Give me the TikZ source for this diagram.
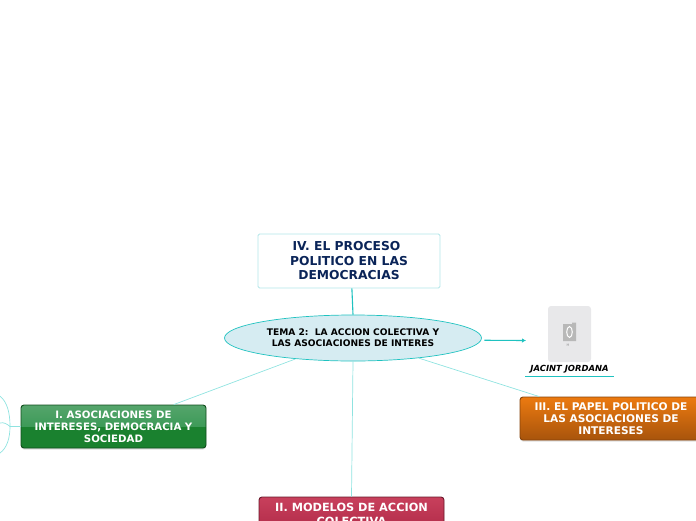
\documentclass[tikz,border=0pt]{standalone}
\usepackage{fontspec}
\setmainfont{DejaVu Sans}
\usetikzlibrary{shapes.geometric,arrows.meta,shadows}

\definecolor{linkteal}{HTML}{1FC2C0}
\definecolor{linklight}{HTML}{8FE3E0}
\definecolor{themefill}{HTML}{D6ECF2}
\definecolor{navytext}{HTML}{0A2458}
\definecolor{photogrey}{HTML}{E8E8EA}
\definecolor{greenhi}{HTML}{6DB07F}
\definecolor{greenmid}{HTML}{3D9A58}
\definecolor{greenlow}{HTML}{1A812F}
\definecolor{orangetop}{HTML}{EC7A10}
\definecolor{orangelow}{HTML}{A8540C}
\definecolor{redtop}{HTML}{C8405C}
\definecolor{redlow}{HTML}{B02A48}

\pgfdeclareverticalshading{greenbar}{100bp}{color(0bp)=(greenlow); color(50bp)=(greenlow); color(50bp)=(greenmid); color(100bp)=(greenhi)}

\tikzset{
  themenode/.style={ellipse, draw=linkteal, fill=themefill, line width=0.7pt, inner sep=0pt,
    minimum width=257pt, minimum height=46pt, align=center, font=\bfseries\fontsize{9.1}{11.2}\selectfont},
  topicbox/.style={rectangle, rounded corners=3pt, inner sep=0pt, align=center, text=white,
    minimum width=185pt, minimum height=43pt, font=\bfseries\fontsize{10.2}{12}\selectfont,
    drop shadow={opacity=0.25, shadow xshift=0pt, shadow yshift=-1.5pt}},
  link/.style={linklight, line width=0.7pt},
  strong/.style={linkteal, line width=1.1pt}
}

\begin{document}
\begin{tikzpicture}[x=1pt,y=-1pt]
  \useasboundingbox (0,0) rectangle (696,520);
  \clip (0,0) rectangle (696,520);

  % Central theme and the four branches
  \node[themenode] (tema) at (353,338) {TEMA 2:\ \ LA ACCION COLECTIVA Y\\LAS ASOCIACIONES DE INTERES};
  \node[rectangle, rounded corners=1.5pt, draw=themefill!70!linkteal!80, fill=white, line width=0.9pt, inner sep=0pt,
    minimum width=182pt, minimum height=54pt, align=center, text=navytext,
    font=\bfseries\fontsize{12.3}{14.5}\selectfont] (procesos) at (349,261)
    {IV. EL PROCESO\hspace*{5pt}\\POLITICO EN LAS\hspace*{5pt}\\ DEMOCRACIAS};
  \node[topicbox, shading=greenbar, draw=greenlow!60!black, line width=0.9pt] (asociaciones) at (113.5,426.5)
    {I. ASOCIACIONES DE\\INTERESES, DEMOCRACIA Y\\SOCIEDAD};
  \node[topicbox, top color=orangetop, bottom color=orangelow, draw=orangelow!80!black, line width=0.9pt,
    minimum width=182pt, font=\bfseries\fontsize{10.6}{12}\selectfont] (papel) at (611,418.5)
    {III. EL PAPEL POLITICO DE\\LAS ASOCIACIONES DE\\INTERESES};
  \node[topicbox, top color=redtop, bottom color=redlow, draw=redlow!60!black, line width=0.9pt,
    minimum height=35pt, font=\bfseries\fontsize{11.3}{13.5}\selectfont] (modelos) at (351.5,514.5)
    {II. MODELOS DE ACCION\\COLECTIVA};

  % Photo placeholder with its caption
  \node[rectangle, rounded corners=3pt, fill=photogrey, minimum width=43pt, minimum height=56pt, inner sep=0pt] (foto) at (569.5,334) {};
  \fill[black!28] (563,324) -- (572,324) -- (572,322.5) -- (576,322.5) -- (576,341) -- (563,341) -- cycle;
  \draw[white, line width=1pt] (569.5,332) ellipse (2.8pt and 5.4pt);
  \node[text=black!45, font=\fontsize{3.5}{4}\selectfont, inner sep=0pt] (fotomark) at (568,345) {H};
  \node[inner sep=0pt, minimum width=88pt, minimum height=15pt,
    font=\bfseries\itshape\fontsize{8.4}{10}\selectfont] (jordana) at (569.5,369) {JACINT JORDANA};
  \draw[strong, line width=1.4pt] (jordana.south west) -- (jordana.south east);

  % Connectors
  \coordinate (arrowend) at (526,340.5);
  \draw[link] (tema.200.6) -- (asociaciones.20);
  \draw[link] (tema.-17) -- (papel.163);
  \draw[link] (tema.south) -- (modelos.north);
  \draw[strong] (procesos.-84) -- (tema.north);
  \draw[strong, shorten <=3pt, -{Latex[length=4pt,width=4.5pt]}] (tema.-1) -- (arrowend);

  % Cut off branch at the left edge
  \coordinate (bracket) at (10,426.5);
  \draw[link] (asociaciones.west) -- (bracket);
  \draw[link] (0,396) .. controls (7,402) and (10,412) .. (bracket) .. controls (10,438) and (7,448) .. (0,453);
  \draw[link] (0,423) .. controls (4,422) and (7,424) .. (bracket);

\end{tikzpicture}
\end{document}
